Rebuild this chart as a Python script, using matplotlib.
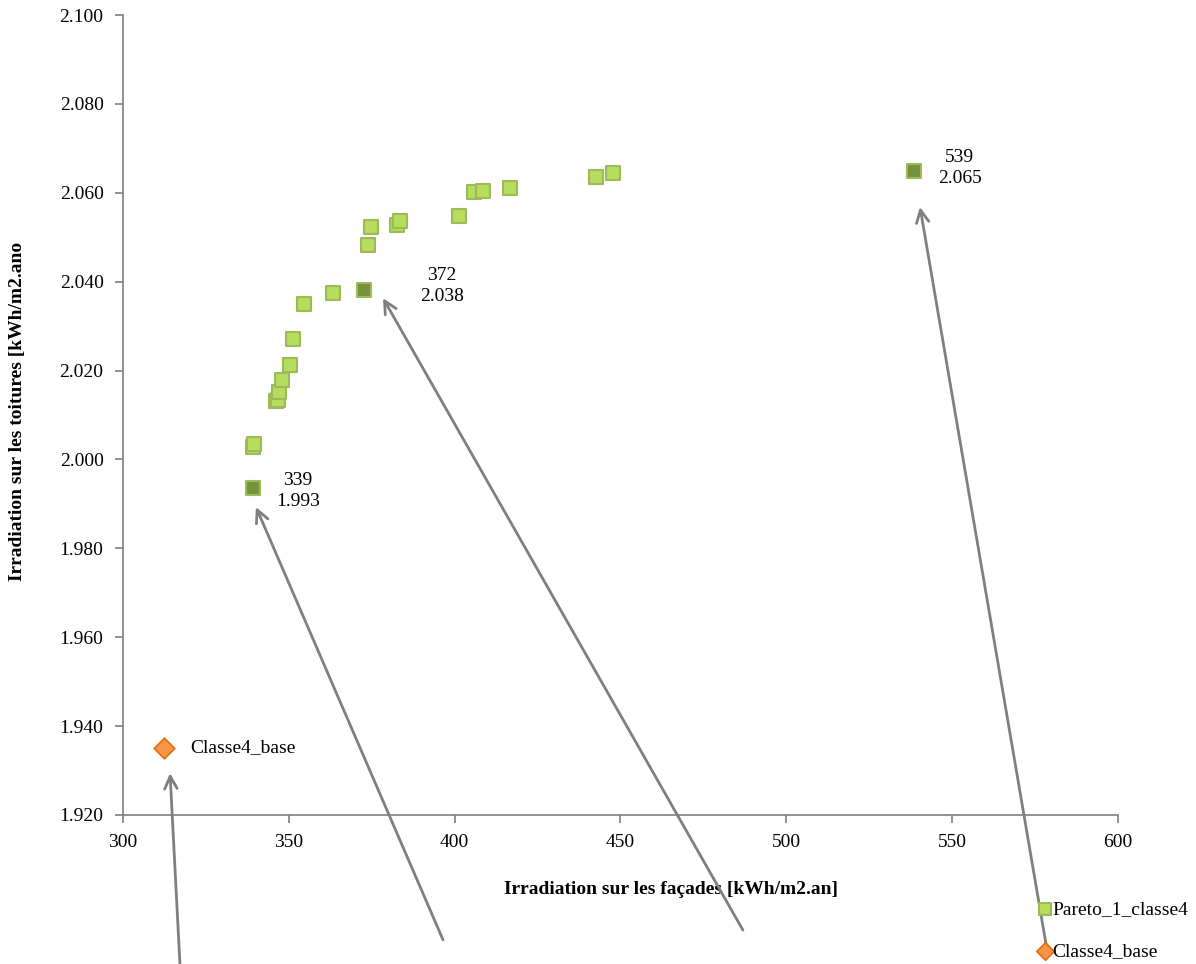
import matplotlib.pyplot as plt
from matplotlib.ticker import FormatStrFormatter, MultipleLocator

# front de Pareto (classe 4)
pareto_x = [339.2, 339.5, 346.1, 346.7, 347.0, 347.9, 350.3, 351.2, 354.6, 363.3,
            373.9, 374.8, 382.6, 383.5, 401.3, 405.8, 408.5, 416.7, 442.6, 447.7]
pareto_y = [2.0028, 2.0035, 2.0131, 2.0134, 2.0152, 2.0179, 2.0212, 2.0271, 2.0350, 2.0374,
            2.0482, 2.0523, 2.0527, 2.0536, 2.0548, 2.0602, 2.0604, 2.0611, 2.0635, 2.0644]

# solutions retenues
choix_x = [339.2, 372.6, 538.6]
choix_y = [1.9936, 2.0381, 2.0650]
choix_labels = ["339\n1.993", "372\n2.038", "539\n2.065"]

base_x = [312.4]
base_y = [1.9351]

gris = "#7f7f7f"
plt.rcParams["font.family"] = "Liberation Serif"

fig = plt.figure(figsize=(11.96, 9.64), dpi=100)
ax = fig.add_axes([0.1028, 0.1546, 0.832, 0.8298])

ax.scatter(pareto_x, pareto_y, marker="s", s=110, facecolor="#b8dc5e",
           edgecolor="#9bbb59", linewidth=1.5, zorder=3, label="Pareto_1_classe4")
ax.scatter(choix_x, choix_y, marker="s", s=110, facecolor="#76923c",
           edgecolor="#9bbb59", linewidth=1.5, zorder=4)
ax.scatter(base_x, base_y, marker="D", s=110, facecolor="#f79646",
           edgecolor="#e46c0a", linewidth=1.2, zorder=4, label="Classe4_base")

# étiquettes des points
ax.text(352.8, 1.9930, choix_labels[0], ha="center", va="center", fontsize=14, linespacing=1.3)
ax.text(396.2, 2.0390, choix_labels[1], ha="center", va="center", fontsize=14, linespacing=1.3)
ax.text(552.3, 2.0655, choix_labels[2], ha="center", va="center", fontsize=14, linespacing=1.3)
ax.text(320.3, 1.9351, "Classe4_base", ha="left", va="center", fontsize=14)

# flèches
fleches = [
    ((314.2, 1.9294), (317.2, 1.8862)),
    ((340.1, 1.9893), (396.5, 1.8919)),
    ((378.4, 2.0363), (486.9, 1.8941)),
    ((540.3, 2.0568), (578.6, 1.8896)),
]
for tete, queue in fleches:
    ax.annotate("", xy=tete, xytext=queue, annotation_clip=False,
                arrowprops=dict(arrowstyle="->,head_length=0.9,head_width=0.45",
                                color=gris, lw=2, shrinkA=0, shrinkB=0))

ax.set_xlim(300, 600)
ax.set_ylim(1.920, 2.100)
ax.xaxis.set_major_locator(MultipleLocator(50))
ax.yaxis.set_major_locator(MultipleLocator(0.02))
ax.yaxis.set_major_formatter(FormatStrFormatter("%.3f"))

for cote in ["top", "right"]:
    ax.spines[cote].set_visible(False)
for cote in ["left", "bottom"]:
    ax.spines[cote].set_color(gris)
    ax.spines[cote].set_linewidth(1.2)
ax.tick_params(direction="out", length=6, width=1.2, color=gris, labelsize=14, pad=8)

ax.set_xlabel("Irradiation sur les façades [kWh/m2.an]", fontsize=14, fontweight="bold")
ax.xaxis.set_label_coords(0.551, -0.083)
ax.set_ylabel("Irradiation sur les toitures [kWh/m2.ano", fontsize=14, fontweight="bold")
ax.yaxis.set_label_coords(-0.097, 0.504)

fig.legend(loc="upper left", bbox_to_anchor=(0.862, 0.074), frameon=False,
           fontsize=14, handlelength=0.6, handletextpad=0.1, labelspacing=1.25,
           markerscale=0.85, borderaxespad=0)

fig.savefig("out.png", dpi=100)
